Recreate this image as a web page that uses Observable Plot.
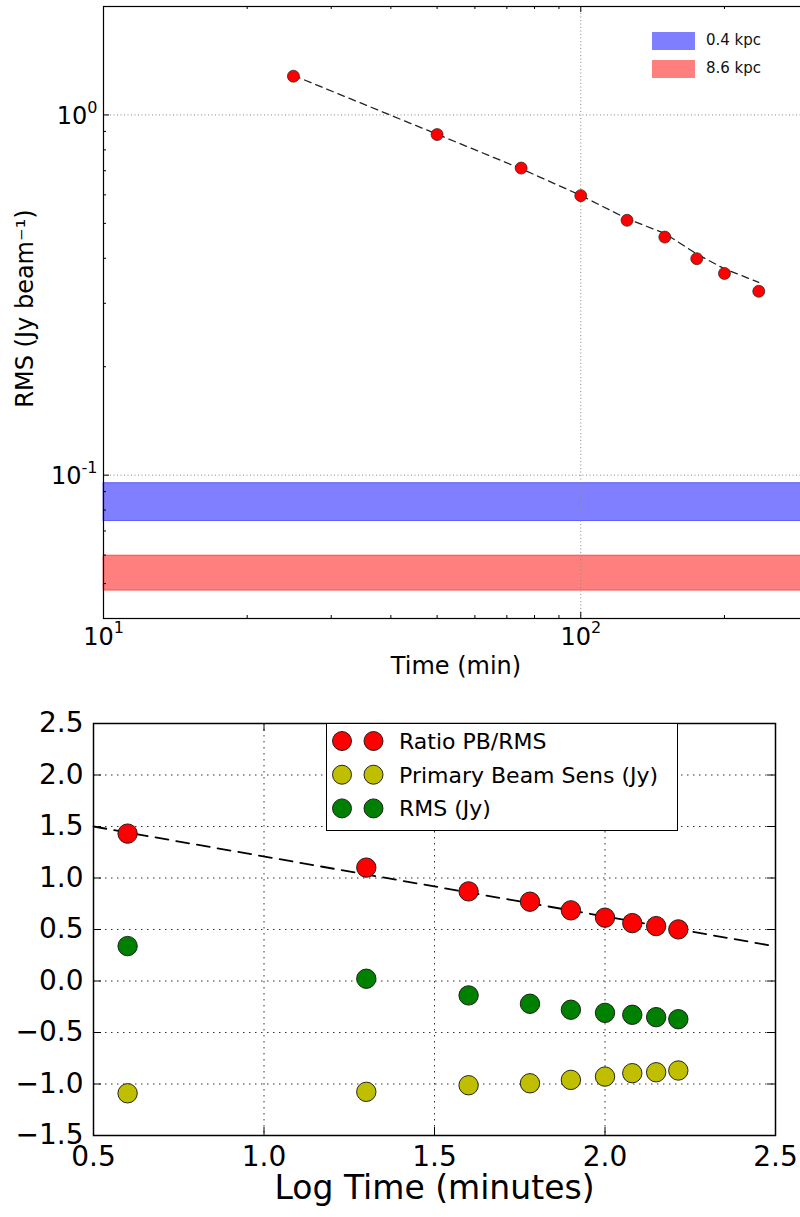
<!DOCTYPE html>
<html>
<head>
<meta charset="utf-8">
<script src="https://cdn.jsdelivr.net/npm/d3@7"></script>
<script src="https://cdn.jsdelivr.net/npm/@observablehq/plot@0.6"></script>
<style>
  body { margin: 0; background: #fff; font-family: "DejaVu Sans", sans-serif; }
  .panel { position: relative; width: 800px; overflow: hidden; }
  .legend-item { position: absolute; white-space: nowrap; line-height: 1; }
</style>
</head>
<body>
<div id="top" class="panel" style="height:690px"></div>
<div id="bottom" class="panel" style="height:527px"></div>
<script>
// ---------- Upper panel: image RMS against integration time (log-log) ----------
const topTimes = [25, 50, 75, 100, 125, 150, 175, 200, 236];           // minutes
const topRms   = [1.281, 0.882, 0.712, 0.597, 0.510, 0.458, 0.399, 0.363, 0.324]; // Jy/beam
const topFit   = [1.287, 0.884, 0.709, 0.598, 0.515, 0.469, 0.411, 0.374, 0.343]; // fitted noise curve

// Sensitivity bands for the two distances
const bandNames  = ["0.4 kpc", "8.6 kpc"];
const bandLow    = [0.0746, 0.0478];
const bandHigh   = [0.0950, 0.0598];
const bandColors = ["#0000ff", "#ff0000"];

const topXDomain = [10, 300];
const topYDomain = [0.04, 2];
const topMajorX = [10, 100];
const topMinorX = [20, 30, 40, 50, 60, 70, 80, 90, 200, 300];
const topMajorY = [0.1, 1];
const topMinorY = [0.05, 0.06, 0.07, 0.08, 0.09, 0.2, 0.3, 0.4, 0.5, 0.6, 0.7, 0.8, 0.9, 2];

// ---------- Lower panel: log quantities against log time ----------
const logTime = [0.6, 1.3, 1.6, 1.78, 1.9, 2.0, 2.08, 2.15, 2.215];
const ratioPbRms = [1.431, 1.101, 0.870, 0.770, 0.686, 0.615, 0.562, 0.533, 0.501];
const pbSens     = [-1.090, -1.076, -1.012, -0.993, -0.960, -0.928, -0.895, -0.886, -0.869];
const rmsJy      = [0.339, 0.022, -0.140, -0.221, -0.279, -0.309, -0.328, -0.351, -0.371];
const fitIntercept = 1.791;   // linear fit to the ratio: y = a + b * logTime
const fitSlope = -0.582;

const seriesNames  = ["Ratio PB/RMS", "Primary Beam Sens (Jy)", "RMS (Jy)"];
const seriesColors = ["#ff0000", "#bfbf00", "#008000"];

const botXDomain = [0.5, 2.5];
const botYDomain = [-1.5, 2.5];
const botXTicks = [0.5, 1.0, 1.5, 2.0, 2.5];
const botYTicks = [-1.5, -1.0, -0.5, 0.0, 0.5, 1.0, 1.5, 2.0, 2.5];

// ---------- helpers ----------
const minus = d => d.toFixed(1).replace("-", "\u2212");
const expOf = d => String(Math.round(Math.log10(d)));
const ctx = document.createElement("canvas").getContext("2d");
const measure = (txt, size) => { ctx.font = `${size}px "DejaVu Sans"`; return ctx.measureText(txt).width; };
const BASE = 24, EXP = 16;

// "10" with a raised exponent for each log-axis tick
function powerTicksX(values) {
  return values.flatMap(v => {
    const e = expOf(v), bw = measure("10", BASE), ew = measure(e, EXP), left = -(bw + ew) / 2;
    return [
      Plot.text([v], {x: d => d, text: () => "10", frameAnchor: "bottom", textAnchor: "start", lineAnchor: "middle",
        dx: left, dy: 19, fontSize: BASE}),
      Plot.text([v], {x: d => d, text: () => e, frameAnchor: "bottom", textAnchor: "start", lineAnchor: "middle",
        dx: left + bw, dy: 9, fontSize: EXP})
    ];
  });
}
function powerTicksY(values, pad) {
  return values.flatMap(v => {
    const e = expOf(v), ew = measure(e, EXP);
    return [
      Plot.text([v], {y: d => d, text: () => "10", frameAnchor: "left", textAnchor: "end", lineAnchor: "middle",
        dx: -pad - ew, dy: 1, fontSize: BASE}),
      Plot.text([v], {y: d => d, text: () => e, frameAnchor: "left", textAnchor: "end", lineAnchor: "middle",
        dx: -pad, dy: -7, fontSize: EXP})
    ];
  });
}

// ---------- draw upper panel ----------
{
  const W = 808, H = 690, M = {top: 6, right: 0, bottom: 72, left: 103};
  const fw = W - M.left - M.right, fh = H - M.top - M.bottom;
  const rows = topTimes.map((t, i) => ({t, rms: topRms[i], fit: topFit[i]}));
  const bands = bandNames.map((name, i) => ({name, lo: bandLow[i], hi: bandHigh[i], color: bandColors[i]}));
  const gridStyle = {stroke: "#8a8a8a", strokeDasharray: "1,2.5", strokeWidth: 1};

  const chart = Plot.plot({
    width: W, height: H,
    marginTop: M.top, marginRight: M.right, marginBottom: M.bottom, marginLeft: M.left,
    style: {fontFamily: "DejaVu Sans", fontSize: "24px", color: "black", background: "white", maxWidth: "none"},
    x: {type: "log", domain: topXDomain, axis: null},
    y: {type: "log", domain: topYDomain, axis: null},
    color: {type: "identity"},
    marks: [
      Plot.rect(bands, {x1: topXDomain[0], x2: topXDomain[1], y1: "lo", y2: "hi",
        fill: "color", fillOpacity: 0.5, stroke: "color", strokeOpacity: 0.5}),
      Plot.ruleY(topMajorY, gridStyle),
      Plot.ruleX([100], gridStyle),
      // inward ticks on all spines
      Plot.ruleX(topMajorX, {insetTop: fh - 6, stroke: "black"}),
      Plot.ruleX(topMajorX, {insetBottom: fh - 6, stroke: "black"}),
      Plot.ruleX(topMinorX, {insetTop: fh - 3, stroke: "black"}),
      Plot.ruleX(topMinorX, {insetBottom: fh - 3, stroke: "black"}),
      Plot.ruleY(topMajorY, {insetRight: fw - 6, stroke: "black"}),
      Plot.ruleY(topMinorY, {insetRight: fw - 3, stroke: "black"}),
      ...powerTicksX(topMajorX),
      ...powerTicksY(topMajorY, 6),
      Plot.text(["Time (min)"], {text: d => d, frameAnchor: "bottom", lineAnchor: "middle", textAnchor: "middle", dy: 48, fontSize: 24}),
      Plot.text(["RMS (Jy beam\u207b\u00b9)"], {text: d => d, frameAnchor: "left", lineAnchor: "middle", textAnchor: "middle",
        dx: -78, dy: -4, rotate: -90, fontSize: 24}),
      Plot.line(rows, {x: "t", y: "fit", stroke: "#222", strokeWidth: 1.3, strokeDasharray: "7,5"}),
      Plot.dot(rows, {x: "t", y: "rms", r: 6, fill: "#ff0000", stroke: "#222", strokeWidth: 0.7}),
      Plot.frame({stroke: "black", strokeWidth: 1.2})
    ]
  });
  const host = document.getElementById("top");
  host.appendChild(chart);

  // legend (upper right)
  bands.forEach((b, i) => {
    const sw = document.createElement("div");
    sw.className = "legend-item";
    Object.assign(sw.style, {left: "652px", top: (32 + i * 27.5) + "px", width: "43px", height: "18px",
      background: b.color, opacity: 0.5, boxSizing: "border-box", border: "1px solid " + b.color});
    host.appendChild(sw);
    const lb = document.createElement("div");
    lb.className = "legend-item";
    lb.textContent = b.name;
    Object.assign(lb.style, {left: "706px", top: (33 + i * 27.5) + "px", fontSize: "15px", color: "#111"});
    host.appendChild(lb);
  });
}

// ---------- draw lower panel ----------
{
  const W = 800, H = 527, M = {top: 33, right: 25, bottom: 82, left: 93};
  const fw = W - M.left - M.right, fh = H - M.top - M.bottom;
  const pts = [];
  logTime.forEach((x, i) => {
    pts.push({x, y: ratioPbRms[i], s: 0});
    pts.push({x, y: pbSens[i], s: 1});
    pts.push({x, y: rmsJy[i], s: 2});
  });
  const fitRows = botXDomain.map(x => ({x, y: fitIntercept + fitSlope * x}));
  const gridStyle = {stroke: "#333", strokeDasharray: "1.5,4.5", strokeWidth: 1};
  const innerX = botXTicks.slice(1, -1), innerY = botYTicks.slice(1, -1);

  const chart = Plot.plot({
    width: W, height: H,
    marginTop: M.top, marginRight: M.right, marginBottom: M.bottom, marginLeft: M.left,
    style: {fontFamily: "DejaVu Sans", fontSize: "28px", color: "black", background: "white", maxWidth: "none"},
    x: {domain: botXDomain},
    y: {domain: botYDomain},
    marks: [
      Plot.ruleX(innerX, gridStyle),
      Plot.ruleY(innerY, gridStyle),
      Plot.ruleX(botXTicks, {insetTop: fh - 8, stroke: "black"}),
      Plot.ruleX(botXTicks, {insetBottom: fh - 8, stroke: "black"}),
      Plot.ruleY(botYTicks, {insetRight: fw - 8, stroke: "black"}),
      Plot.ruleY(botYTicks, {insetLeft: fw - 8, stroke: "black"}),
      Plot.axisX(botXTicks, {tickSize: 0, tickPadding: 11, tickFormat: minus, label: null, fontSize: 28}),
      Plot.axisY(botYTicks, {tickSize: 0, tickPadding: 10, tickFormat: minus, label: null, fontSize: 28}),
      Plot.text(["Log Time (minutes)"], {text: d => d, frameAnchor: "bottom", lineAnchor: "middle", textAnchor: "middle", dy: 53, fontSize: 33}),
      Plot.line(fitRows, {x: "x", y: "y", stroke: "black", strokeWidth: 1.8, strokeDasharray: "13,8"}),
      Plot.dot(pts, {x: "x", y: "y", r: 9.7, fill: d => seriesColors[d.s], stroke: "#111", strokeWidth: 0.9}),
      Plot.frame({stroke: "black", strokeWidth: 1.5})
    ]
  });
  const host = document.getElementById("bottom");
  host.appendChild(chart);

  // legend box (upper centre)
  const box = document.createElement("div");
  Object.assign(box.style, {position: "absolute", left: "326px", top: "33px", width: "352px", height: "108px",
    boxSizing: "border-box", border: "1.5px solid black", background: "white"});
  host.appendChild(box);
  const leg = d3.select(box).append("svg").attr("width", 350).attr("height", 106)
    .style("position", "absolute").style("left", "0").style("top", "0");
  seriesNames.forEach((name, i) => {
    const cy = 17 + i * 33.7;
    [15, 46.5].forEach(cx => leg.append("circle").attr("cx", cx).attr("cy", cy).attr("r", 9.5)
      .attr("fill", seriesColors[i]).attr("stroke", "#111").attr("stroke-width", 0.9));
    leg.append("text").attr("x", 72).attr("y", cy).attr("dy", "0.36em")
      .attr("font-family", "DejaVu Sans").attr("font-size", 22).text(name);
  });
}
</script>
</body>
</html>
